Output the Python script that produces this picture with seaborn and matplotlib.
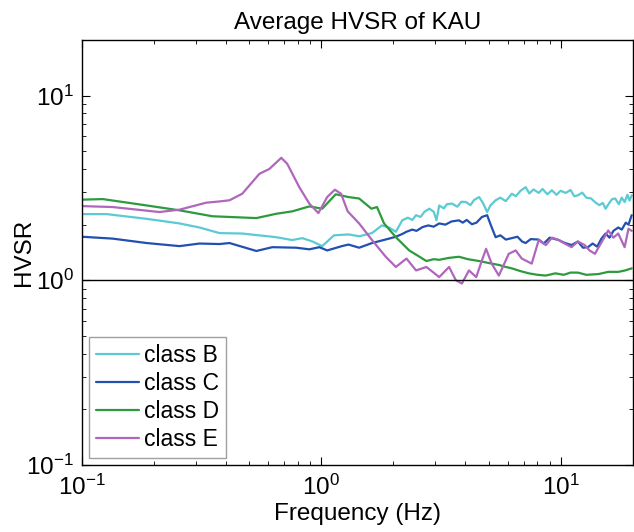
import matplotlib
matplotlib.use('Agg')
import matplotlib.pyplot as plt
import pandas as pd
import seaborn as sns
from matplotlib.ticker import LogLocator

# values (frequency in Hz, HVSR)
freq_b = [0.1, 0.127, 0.1866, 0.256, 0.31, 0.376, 0.468, 0.649, 0.757, 0.834, 0.92, 1.01, 1.13, 1.3,
          1.44, 1.63, 1.79, 1.92, 2.05, 2.18, 2.3, 2.4, 2.49, 2.6, 2.7, 2.83, 2.95, 3.03, 3.11, 3.25,
          3.35, 3.52, 3.7, 3.85, 4.02, 4.2, 4.35, 4.57, 4.75, 4.93, 5.1, 5.35, 5.6, 5.9, 6.25, 6.5,
          6.8, 7.14, 7.4, 7.7, 8.1, 8.4, 8.8, 9.19, 9.6, 10.0, 10.5, 11.0, 11.4, 11.8, 12.3, 12.8,
          13.4, 13.9, 14.5, 15.0, 15.4, 15.9, 16.4, 16.9, 17.5, 18.0, 18.5, 19.0, 19.4, 19.8]
hvsr_b = [2.28, 2.28, 2.15, 2.03, 1.93, 1.80, 1.79, 1.71, 1.65, 1.69, 1.62, 1.53, 1.75, 1.77,
          1.73, 1.80, 1.98, 1.93, 1.83, 2.11, 2.18, 2.12, 2.25, 2.2, 2.35, 2.44, 2.35, 2.11, 2.54, 2.45,
          2.58, 2.6, 2.5, 2.66, 2.65, 2.55, 2.72, 2.82, 2.6, 2.34, 2.55, 2.71, 2.8, 2.68, 2.94, 2.85,
          3.05, 3.19, 2.95, 3.1, 2.97, 3.12, 2.92, 3.07, 2.9, 3.05, 2.97, 3.08, 2.85, 2.88, 2.98, 2.8,
          2.77, 2.65, 2.55, 2.62, 2.44, 2.6, 2.75, 2.77, 2.58, 2.8, 2.65, 2.9, 2.7, 2.88]

freq_c = [0.1, 0.1346, 0.1866, 0.256, 0.31, 0.376, 0.414, 0.536, 0.625, 0.787, 0.892, 0.982, 1.059,
          1.22, 1.3, 1.44, 1.63, 1.92, 2.05, 2.18, 2.27, 2.4, 2.5, 2.65, 2.8, 2.95, 3.11, 3.3, 3.5,
          3.76, 3.9, 4.05, 4.26, 4.45, 4.69, 4.93, 5.1, 5.35, 5.6, 5.9, 6.25, 6.6, 6.9, 7.14, 7.5,
          8.1, 8.5, 9.0, 9.82, 10.3, 11.1, 11.8, 12.4, 13.0, 13.6, 14.2, 14.8, 15.4, 16.0, 16.6,
          17.4, 18.0, 18.7, 19.2, 19.8]
hvsr_c = [1.72, 1.68, 1.59, 1.53, 1.58, 1.57, 1.59, 1.44, 1.51, 1.50, 1.47, 1.51, 1.45,
          1.53, 1.56, 1.50, 1.59, 1.68, 1.72, 1.78, 1.83, 1.88, 1.85, 1.94, 1.98, 1.95, 2.03, 2.0, 2.08,
          2.11, 2.05, 2.12, 2.01, 2.05, 2.20, 2.25, 2.0, 1.71, 1.75, 1.66, 1.69, 1.72, 1.62, 1.59, 1.67,
          1.66, 1.58, 1.7, 1.65, 1.6, 1.55, 1.62, 1.5, 1.51, 1.58, 1.52, 1.68, 1.79, 1.7, 1.85,
          1.93, 1.88, 2.05, 2.0, 2.25]

freq_d = [0.1, 0.1223, 0.1866, 0.256, 0.351, 0.536, 0.649, 0.757, 0.892, 1.01, 1.15, 1.3, 1.44,
          1.62, 1.71, 1.83, 2.05, 2.33, 2.55, 2.75, 2.95, 3.11, 3.4, 3.76, 4.1, 4.57, 5.0, 5.52,
          5.9, 6.25, 6.8, 7.36, 8.0, 8.67, 9.5, 10.3, 11.0, 11.8, 12.8, 14.4, 15.8, 17.4, 18.6, 19.8]
hvsr_d = [2.73, 2.75, 2.54, 2.39, 2.22, 2.17, 2.29, 2.36, 2.51, 2.44, 2.92, 2.82, 2.77,
          2.44, 2.49, 2.03, 1.71, 1.45, 1.35, 1.27, 1.3, 1.29, 1.32, 1.34, 1.3, 1.27, 1.24, 1.21,
          1.18, 1.16, 1.12, 1.09, 1.07, 1.06, 1.09, 1.07, 1.1, 1.10, 1.07, 1.08, 1.11, 1.11, 1.13, 1.16]

freq_e = [0.1, 0.1346, 0.211, 0.256, 0.331, 0.376, 0.414, 0.468, 0.552, 0.607, 0.681, 0.721, 0.81,
          0.892, 0.973, 1.059, 1.14, 1.21, 1.29, 1.44, 1.63, 1.86, 2.05, 2.27, 2.49, 2.75, 3.11,
          3.42, 3.65, 3.87, 4.14, 4.44, 4.69, 4.88, 5.15, 5.52, 6.07, 6.49, 6.88, 7.57, 8.1, 8.67,
          9.2, 9.82, 10.4, 11.1, 11.8, 12.6, 13.2, 13.9, 14.8, 15.8, 16.6, 17.4, 18.5, 19.2, 19.8]
hvsr_e = [2.52, 2.49, 2.34, 2.41, 2.63, 2.67, 2.71, 2.94, 3.77, 4.0, 4.6, 4.27, 3.19,
          2.6, 2.31, 2.82, 3.09, 2.94, 2.36, 2.03, 1.65, 1.34, 1.18, 1.31, 1.13, 1.18, 1.04,
          1.18, 1.0, 0.96, 1.13, 1.04, 1.28, 1.48, 1.23, 1.06, 1.39, 1.45, 1.31, 1.23, 1.65, 1.55,
          1.7, 1.65, 1.58, 1.51, 1.62, 1.55, 1.45, 1.39, 1.6, 1.86, 1.7, 1.79, 1.51, 1.90, 1.85]

classes = ['class B', 'class C', 'class D', 'class E']
colors = ['#5ccad2', '#2250b0', '#2e9a3e', '#b066bc']

frames = []
for name, f, v in zip(classes, [freq_b, freq_c, freq_d, freq_e], [hvsr_b, hvsr_c, hvsr_d, hvsr_e]):
    frames.append(pd.DataFrame({'freq': f, 'hvsr': v, 'cls': name}))
df = pd.concat(frames, ignore_index=True)

sns.set_style('ticks')
plt.rcParams['font.family'] = ['Liberation Sans', 'DejaVu Sans']
plt.rcParams['text.color'] = 'black'
plt.rcParams['axes.labelcolor'] = 'black'
plt.rcParams['xtick.color'] = 'black'
plt.rcParams['ytick.color'] = 'black'

fig = plt.figure(figsize=(6.34, 5.32), dpi=100)
ax = fig.add_axes([0.129, 0.126, 0.869, 0.799])
sns.lineplot(x='freq', y='hvsr', hue='cls', data=df, palette=dict(zip(classes, colors)),
             estimator=None, sort=False, linewidth=1.6, ax=ax)
ax.axhline(1, color='black', linewidth=1.0)

ax.set_xscale('log')
ax.set_yscale('log')
ax.set_xlim(0.1, 20)
ax.set_ylim(0.1, 20)
ax.xaxis.set_minor_locator(LogLocator(base=10, subs=range(2, 10)))
ax.yaxis.set_minor_locator(LogLocator(base=10, subs=range(2, 10)))
ax.tick_params(which='both', direction='in', top=True, right=True, labelsize=17.5,
               color='black', labelcolor='black')
ax.tick_params(which='major', length=6)
ax.tick_params(which='minor', length=3)
ax.tick_params(axis='x', which='major', pad=7)
ax.tick_params(axis='y', which='major', pad=6)
for s in ax.spines.values():
    s.set_color('black')
    s.set_linewidth(1.0)

ax.set_title('Average HVSR of KAU', fontsize=17.5, pad=8, color='black')
ax.set_xlabel('Frequency (Hz)', fontsize=17.5, labelpad=2, color='black')
ax.set_ylabel('HVSR', fontsize=17.5, labelpad=-7, color='black')

leg = ax.legend(loc='lower left', fontsize=16.5, frameon=True, fancybox=False,
                edgecolor='#888888', handlelength=1.9, borderpad=0.3, labelspacing=0.22,
                handletextpad=0.2, borderaxespad=0.3)
leg.get_frame().set_linewidth(1.0)
for t in leg.get_texts():
    t.set_color('black')

plt.savefig('out.png', dpi=100)
